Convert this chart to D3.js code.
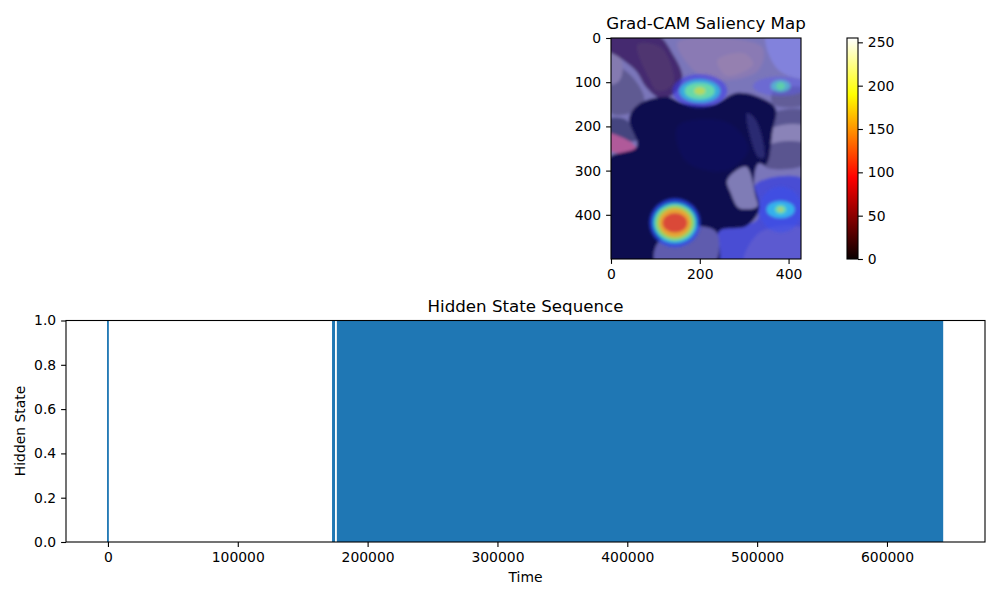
<!DOCTYPE html>
<html>
<head>
<meta charset="utf-8">
<script src="https://cdn.jsdelivr.net/npm/d3@7"></script>
<style>
body { margin: 0; background: #fff; }
text { font-family: "DejaVu Sans", sans-serif; fill: #000; }
.tick text { font-size: 13.9px; }
.axis path, .axis line { stroke: #000; stroke-width: 1.1px; }
</style>
</head>
<body>
<div id="fig"></div>
<script>
// hidden state spans, [start, end] in time steps
var stateSpans = [[-700, 700], [172600, 174900], [176300, 643300]];
var timeTicks = [0, 100000, 200000, 300000, 400000, 500000, 600000];
var stateTicks = [0, 0.2, 0.4, 0.6, 0.8, 1.0];

var imgXTicks = [0, 200, 400];
var imgYTicks = [0, 100, 200, 300, 400];
var cbarTicks = [0, 50, 100, 150, 200, 250];
var hotStops = [[0, "#0a0000"], [94, "#ff0000"], [190, "#ffff00"], [255, "#ffffff"]];

// photo regions in image pixels: colour, points
var photoRegions = [
  ["#7a76ba", [[-60,-60],[490,-60],[490,560],[-60,560]]],
  ["#8a7ab4", [[150,10],[340,20],[330,75],[210,90]]],
  ["#9580b0", [[240,50],[300,35],[320,60],[260,85]]],
  ["#8282dc", [[350,-10],[440,-10],[440,90],[375,70]]],
  ["#5f5a92", [[0,60],[45,85],[75,140],[55,165],[0,170]]],
  ["#847ab0", [[0,20],[25,55],[20,95],[0,105]]],
  ["#625d98", [[365,120],[440,115],[440,150],[365,150]]],
  ["#5a5692", [[368,170],[440,165],[440,195],[368,205]]],
  ["#8a83b8", [[362,205],[440,200],[440,235],[358,240]]],
  ["#5a5590", [[350,245],[440,240],[440,285],[345,290]]],
  ["#4a4ed4", [[325,332],[440,322],[440,520],[245,520],[240,440],[330,410]]],
  ["#5c5ad0", [[335,440],[430,430],[430,510],[300,510]]],
  ["#452c70", [[-10,-10],[101,-10],[139,36],[161,89],[143,126],[109,135],[79,111],[56,74],[19,44],[-10,25]]],
  ["#50346f", [[60,15],[110,20],[135,60],[140,105],[105,120],[85,90]]],
  ["#45447f", [[-10,185],[34,185],[56,232],[-10,216]]],
  ["#b05a9a", [[-10,216],[48,238],[56,250],[26,261],[-10,250]]],
  ["#0a0750", [[-10,276],[58,246],[41,182],[64,149],[124,133],[161,146],[229,150],[285,124],[341,137],[371,160],[364,209],[349,287],[332,284],[322,328],[334,388],[304,426],[244,437],[240,510],[-10,510]]],
  ["#0e0b5a", [[150,200],[260,190],[310,250],[260,300],[170,280]]],
  ["#5f5cae", [[101,471],[124,449],[191,426],[236,437],[244,471],[232,510],[101,510]]],
  ["#2c2a72", [[306,170],[326,185],[345,270],[332,270]]],
  ["#7f7cb6", [[262,321],[304,291],[326,359],[330,381],[289,385],[270,351]]]
];

// saliency hot spots: centre, then [colour, radius x, radius y, opacity] from outside in
var heatSpots = [
  [200, 120, [["#3a3cf0", 62, 38, 0.55], ["#30c0e0", 46, 26, 0.8], ["#70e0a0", 34, 19, 0.85], ["#c8d850", 13, 9, 0.8]]],
  [382, 109, [["#5a5cf0", 62, 22, 0.45], ["#50c8d0", 22, 14, 0.7], ["#60d8a0", 10, 9, 0.8]]],
  [382, 388, [["#3a50f0", 48, 52, 0.5], ["#30d0f0", 32, 20, 0.75], ["#70e0a0", 13, 10, 0.85], ["#c0c870", 6, 5, 0.8]]],
  [144, 418, [["#2a4cf0", 58, 56, 0.7], ["#30d8d8", 50, 46, 0.8], ["#a0dc50", 44, 40, 0.85], ["#f0a030", 36, 33, 0.9], ["#d84038", 28, 22, 0.9]]]
];

var svg = d3.select("#fig").append("svg").attr("width", 1000).attr("height", 600);
var defs = svg.append("defs");

// image panel
var ix = d3.scaleLinear().domain([0, 428]).range([611, 801]);
var iy = d3.scaleLinear().domain([0, 500]).range([38, 259]);

defs.append("clipPath").attr("id", "imgclip").append("rect")
  .attr("x", ix(0)).attr("y", iy(0))
  .attr("width", ix(428) - ix(0)).attr("height", iy(500) - iy(0));
defs.append("filter").attr("id", "soft").attr("x", "-30%").attr("y", "-30%").attr("width", "160%").attr("height", "160%")
  .append("feGaussianBlur").attr("stdDeviation", 1.5);
defs.append("filter").attr("id", "softer").attr("x", "-30%").attr("y", "-30%").attr("width", "160%").attr("height", "160%")
  .append("feGaussianBlur").attr("stdDeviation", 1.7);

var panel = svg.append("g").attr("clip-path", "url(#imgclip)");
var poly = d3.line().x(function(d) { return ix(d[0]); }).y(function(d) { return iy(d[1]); }).curve(d3.curveCatmullRomClosed.alpha(0.5));

panel.append("g").attr("filter", "url(#soft)")
  .selectAll("path").data(photoRegions).enter().append("path")
  .attr("d", function(d) { return poly(d[1]); })
  .attr("fill", function(d) { return d[0]; });

heatSpots.forEach(function(s) {
  panel.append("g").attr("filter", "url(#softer)")
    .selectAll("ellipse").data(s[2]).enter().append("ellipse")
    .attr("cx", ix(s[0])).attr("cy", iy(s[1]))
    .attr("rx", function(d) { return ix(d[1]) - ix(0); })
    .attr("ry", function(d) { return iy(d[2]) - iy(0); })
    .attr("fill", function(d) { return d[0]; })
    .attr("fill-opacity", function(d) { return d[3]; });
});

function frame(x0, y0, x1, y1) {
  svg.append("rect").attr("x", x0).attr("y", y0)
    .attr("width", x1 - x0).attr("height", y1 - y0)
    .attr("fill", "none").attr("stroke", "#000").attr("stroke-width", 1.1);
}

function addAxis(axis, tx, ty) {
  var g = svg.append("g").attr("class", "axis")
    .attr("transform", "translate(" + tx + "," + ty + ")")
    .call(axis);
  g.select(".domain").remove();
  return g;
}

frame(611, 38, 801, 259);
addAxis(d3.axisBottom(ix).tickValues(imgXTicks).tickFormat(d3.format("d")).tickSize(4.9).tickPadding(4.9), 0, 259);
addAxis(d3.axisLeft(iy).tickValues(imgYTicks).tickFormat(d3.format("d")).tickSize(4.9).tickPadding(4.9), 611, 0);

svg.append("text").attr("x", 706).attr("y", 29).attr("text-anchor", "middle")
  .style("font-size", "16.67px").text("Grad-CAM Saliency Map");

// colorbar
var cy = d3.scaleLinear().domain([0, 255]).range([259, 38]);
var grad = defs.append("linearGradient").attr("id", "hot")
  .attr("x1", 0).attr("y1", 1).attr("x2", 0).attr("y2", 0);
grad.selectAll("stop").data(hotStops).enter().append("stop")
  .attr("offset", function(d) { return d[0] / 255; })
  .attr("stop-color", function(d) { return d[1]; });
svg.append("rect").attr("x", 847).attr("y", 38).attr("width", 11).attr("height", 221).attr("fill", "url(#hot)");
frame(847, 38, 858, 259);
addAxis(d3.axisRight(cy).tickValues(cbarTicks).tickFormat(d3.format("d")).tickSize(4.9).tickPadding(4.9), 858, 0);

// hidden state panel
var margin = {top: 320.5, right: 15, bottom: 58, left: 66};
var tx = d3.scaleLinear().domain([-32300, 675500]).range([margin.left, 1000 - margin.right]);
var ty = d3.scaleLinear().domain([0, 1]).range([600 - margin.bottom, margin.top]);

svg.selectAll(".span").data(stateSpans).enter().append("rect")
  .attr("class", "span")
  .attr("x", function(d) { return tx(d[0]); })
  .attr("y", ty(1))
  .attr("width", function(d) { return tx(d[1]) - tx(d[0]); })
  .attr("height", ty(0) - ty(1))
  .attr("fill", "#1f77b4");

frame(margin.left, margin.top, 1000 - margin.right, 600 - margin.bottom);
addAxis(d3.axisBottom(tx).tickValues(timeTicks).tickFormat(d3.format("d")).tickSize(4.9).tickPadding(4.9), 0, 600 - margin.bottom);
addAxis(d3.axisLeft(ty).tickValues(stateTicks).tickFormat(d3.format(".1f")).tickSize(4.9).tickPadding(4.9), margin.left, 0);

svg.append("text").attr("x", 525.5).attr("y", 312).attr("text-anchor", "middle")
  .style("font-size", "16.67px").text("Hidden State Sequence");
svg.append("text").attr("x", 525.5).attr("y", 582).attr("text-anchor", "middle")
  .style("font-size", "13.9px").text("Time");
svg.append("text").attr("transform", "translate(25,431) rotate(-90)").attr("text-anchor", "middle")
  .style("font-size", "13.9px").text("Hidden State");
</script>
</body>
</html>
